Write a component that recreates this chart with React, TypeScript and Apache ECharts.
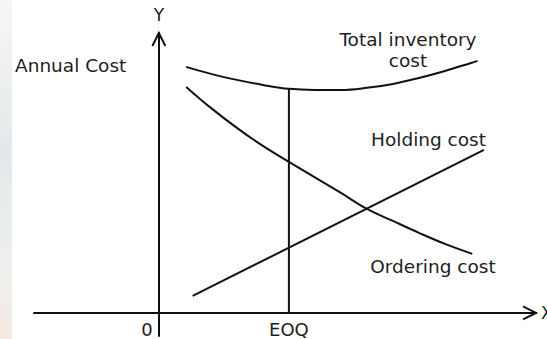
import React, { useEffect, useRef } from "react";
import * as echarts from "echarts";

// Schematic EOQ chart — data in arbitrary units
const EOQ = 100;
const X_MIN = -96;
const X_MAX = 290;
const Y_MIN = -16.5;
const Y_MAX = 200;

const totalX = [21, 40, 60, 80, 100, 120, 140, 160, 180, 200, 220, 240, 245];
const totalY = [175.8, 170.8, 166.5, 162.9, 160.1, 159.3, 159.3, 160.8, 163.6, 167.9, 172.9, 178.6, 180.1];

const orderingX = [21, 40, 60, 80, 100, 120, 140, 160, 180, 200, 220, 241];
const orderingY = [161.5, 146.5, 132.2, 119.3, 107.9, 96.8, 85.7, 74.3, 65.7, 57.2, 49.3, 42.2];

const holdingX = [26, 250];
const holdingY = [12.1, 116.5];

const tickValues = [0, EOQ];
const tickLabels = ["0", "EOQ"];

const FONT = "'DejaVu Sans', Verdana, sans-serif";
const INK = "#111";
const TXT = "#1e1e1e";

const zip = (xs: number[], ys: number[]) => xs.map((x, i) => [x, ys[i]]);

export default function App() {
  const ref = useRef<HTMLDivElement>(null);
  useEffect(() => {
    if (!ref.current) return;
    const chart = echarts.init(ref.current, null, { renderer: "svg" });
    const eoqTop = totalY[totalX.indexOf(EOQ)];
    const lineStyle = { color: INK, width: 2 };
    chart.setOption({
      animation: false,
      backgroundColor: "#ffffff",
      grid: { left: 34, right: 11, top: 33, bottom: 3, containLabel: false, outerBoundsMode: "none" },
      xAxis: {
        type: "value",
        min: X_MIN,
        max: X_MAX,
        name: "X",
        nameLocation: "end",
        nameGap: 5,
        nameTextStyle: { fontFamily: FONT, fontSize: 17, color: TXT, verticalAlign: "middle" },
        axisLine: { show: true, onZero: true, lineStyle },
        axisTick: { show: false },
        splitLine: { show: false },
        axisLabel: { show: false },
      },
      yAxis: {
        type: "value",
        min: Y_MIN,
        max: Y_MAX,
        name: "Y",
        nameLocation: "end",
        nameGap: 10,
        nameTextStyle: { fontFamily: FONT, fontSize: 17, color: TXT },
        axisLine: { show: true, onZero: true, lineStyle },
        axisTick: { show: false },
        axisLabel: { show: false },
        splitLine: { show: false },
      },
      series: [
        {
          name: "Total inventory cost",
          type: "line",
          data: zip(totalX, totalY),
          smooth: 0.4,
          showSymbol: false,
          lineStyle,
        },
        {
          name: "Ordering cost",
          type: "line",
          data: zip(orderingX, orderingY),
          smooth: 0.4,
          showSymbol: false,
          lineStyle,
        },
        {
          name: "Holding cost",
          type: "line",
          data: zip(holdingX, holdingY),
          showSymbol: false,
          lineStyle,
        },
        {
          name: "EOQ",
          type: "line",
          data: [
            [EOQ, 0],
            [EOQ, eoqTop],
          ],
          showSymbol: false,
          lineStyle,
        },
      ],
    });

    const px = (x: number, y: number) => chart.convertToPixel({ gridIndex: 0 }, [x, y]) as number[];
    const [xEndX, xEndY] = px(X_MAX, 0);
    const [yEndX, yEndY] = px(0, Y_MAX);
    const textStyle = (text: string, x: number, y: number, align: string, fontSize = 18.5) => ({
      type: "text",
      x,
      y,
      style: {
        text,
        fontFamily: FONT,
        fontSize,
        fill: TXT,
        align,
        verticalAlign: "middle",
        lineHeight: 21,
      },
    });
    const tickTexts = tickValues.map((v, i) => {
      const [tx, ty] = px(v, 0);
      return textStyle(tickLabels[i], v === 0 ? tx - 12 : tx, ty + 17, "center", 18);
    });
    chart.setOption({
      graphic: [
        {
          type: "rect",
          shape: { x: 0, y: 0, width: 12, height: 339 },
          style: {
            fill: new echarts.graphic.LinearGradient(0, 0, 0, 1, [
              { offset: 0, color: "#f6f6f4" },
              { offset: 0.45, color: "#e3e9eb" },
              { offset: 0.8, color: "#eef0ee" },
              { offset: 1, color: "#f7e9e3" },
            ]),
          },
          silent: true,
        },
        {
          type: "polyline",
          shape: { points: [[xEndX - 13, xEndY - 6.5], [xEndX, xEndY], [xEndX - 13, xEndY + 6.5]] },
          style: { stroke: INK, lineWidth: 2, fill: null },
        },
        {
          type: "polyline",
          shape: { points: [[yEndX - 6.5, yEndY + 13], [yEndX, yEndY], [yEndX + 6.5, yEndY + 13]] },
          style: { stroke: INK, lineWidth: 2, fill: null },
        },
        ...tickTexts,
        textStyle("Annual Cost", 15, 65, "left"),
        textStyle("Total inventory\ncost", 408, 49.5, "center"),
        textStyle("Holding cost", 428.5, 139.3, "center"),
        textStyle("Ordering cost", 433, 266.3, "center"),
      ],
    });
    return () => chart.dispose();
  }, []);
  return (
    <div
      ref={ref}
      style={{ position: "fixed", left: 0, top: 0, width: 547, height: 339, background: "#fff" }}
    />
  );
}
